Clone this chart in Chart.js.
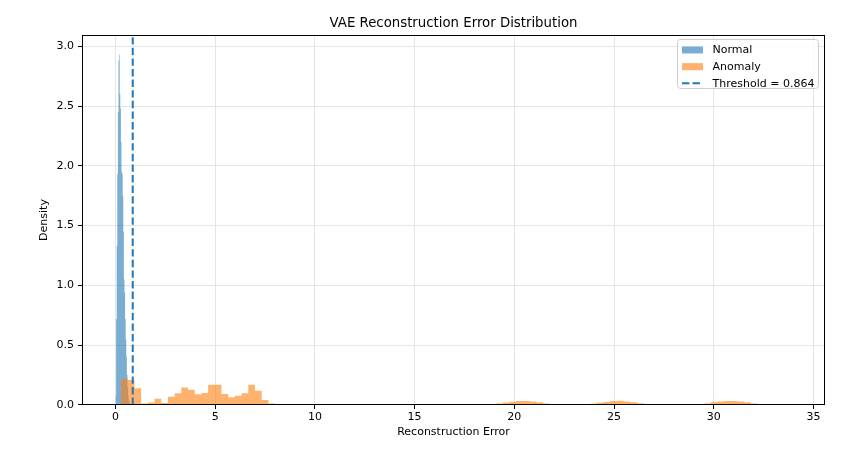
<!DOCTYPE html>
<html>
<head>
<meta charset="utf-8">
<script src="https://cdn.jsdelivr.net/npm/chart.js@4.4.1/dist/chart.umd.min.js"></script>
<style>
  html, body { margin: 0; padding: 0; background: #fff; }
  #wrap { width: 854px; height: 449px; position: relative; }
</style>
</head>
<body>
<div id="wrap"><canvas id="errChart"></canvas></div>
<script>
// histogram bins (density per bin)
const normalBinStart = 0.0;
const normalBinWidth = 0.03;
const normalDensity = [
  0.08, 0.72, 1.33, 1.93, 2.45, 2.88, 2.93, 2.60, 2.48, 2.20, 1.95, 1.93,
  1.75, 1.45, 1.05, 0.94, 0.72, 0.55, 0.40, 0.25, 0.15, 0.08, 0.04, 0.02
];

const anomalyBinStart = 0.276;
const anomalyBinWidth = 0.336;
const anomalyDensity = [
  0.22, 0.21, 0.14, 0.013, 0.02, 0.053, 0.017, 0.07, 0.098, 0.147,
  0.128, 0.09, 0.10, 0.17, 0.17, 0.092, 0.065, 0.078, 0.098, 0.17,
  0.12, 0.042, 0.012, 0.005, 0.004, 0.004, 0.003, 0, 0, 0,
  0, 0, 0, 0, 0, 0, 0, 0, 0, 0,
  0, 0, 0, 0.003, 0.004, 0.003, 0, 0, 0, 0,
  0, 0, 0.002, 0.004, 0.005, 0.007, 0.012, 0.02, 0.028, 0.033,
  0.033, 0.03, 0.022, 0.012, 0.004, 0, 0, 0, 0.003, 0.006,
  0.01, 0.018, 0.026, 0.033, 0.035, 0.03, 0.024, 0.015, 0.008, 0.003,
  0, 0, 0, 0, 0, 0.003, 0.007, 0.013, 0.022, 0.03,
  0.033, 0.033, 0.03, 0.022, 0.013, 0.006, 0.002, 0, 0, 0
];

const threshold = 0.864;
const xTicks = [0, 5, 10, 15, 20, 25, 30, 35];
const yTicks = [0, 0.5, 1.0, 1.5, 2.0, 2.5, 3.0];
const xRange = [-1.68, 35.58];
const yRange = [0, 3.094];

const FONT = "'DejaVu Sans', sans-serif";
const normalColor = "rgba(31,119,180,0.6)";
const anomalyColor = "rgba(255,127,14,0.6)";
const lineColor = "#1f77b4";

// stepped outline of a histogram: each bin holds its value until the next edge
function histPoints(start, width, dens) {
  const pts = dens.map((d, i) => ({ x: start + i * width, y: d }));
  pts.push({ x: start + dens.length * width, y: 0 });
  return pts;
}

const frame = {
  id: "frame",
  afterDatasetsDraw(chart) {
    const { ctx, chartArea: a } = chart;
    ctx.save();
    ctx.strokeStyle = "#000";
    ctx.lineWidth = 1;
    ctx.strokeRect(Math.round(a.left) + 0.5, Math.round(a.top) + 0.5,
      Math.round(a.right - a.left) - 1, Math.round(a.bottom - a.top) - 1);
    ctx.restore();
  },
  afterDraw(chart) {
    // matplotlib-style legend box in the upper right corner
    const { ctx, chartArea: a } = chart;
    const bx = a.right - 148, by = a.top + 4, bw = 141, bh = 49;
    ctx.save();
    ctx.fillStyle = "rgba(255,255,255,0.8)";
    ctx.strokeStyle = "#cccccc";
    ctx.lineWidth = 1;
    ctx.beginPath();
    ctx.roundRect(bx + 0.5, by + 0.5, bw, bh, 3);
    ctx.fill();
    ctx.stroke();

    const items = [
      { label: "Normal", kind: "patch", color: normalColor },
      { label: "Anomaly", kind: "patch", color: anomalyColor },
      { label: `Threshold = ${threshold}`, kind: "dash", color: lineColor },
    ];
    ctx.font = `11px ${FONT}`;
    ctx.textBaseline = "middle";
    items.forEach((it, i) => {
      const cy = by + 11 + i * 16.7;
      if (it.kind === "patch") {
        ctx.fillStyle = it.color;
        ctx.fillRect(bx + 5, cy - 3.5, 21, 7);
      } else {
        ctx.strokeStyle = it.color;
        ctx.lineWidth = 2;
        ctx.setLineDash([7.4, 3.2]);
        ctx.beginPath();
        ctx.moveTo(bx + 5, cy);
        ctx.lineTo(bx + 26, cy);
        ctx.stroke();
        ctx.setLineDash([]);
      }
      ctx.fillStyle = "#000";
      ctx.fillText(it.label, bx + 35.5, cy + 0.5);
    });
    ctx.restore();
  }
};

new Chart(document.getElementById("errChart"), {
  type: "line",
  data: {
    datasets: [
      {
        label: `Threshold = ${threshold}`,
        data: [{ x: threshold, y: yRange[0] }, { x: threshold, y: yRange[1] }],
        borderColor: lineColor, borderWidth: 2, borderDash: [7.4, 3.2],
        pointRadius: 0, fill: false, order: 0,
      },
      {
        label: "Anomaly",
        data: histPoints(anomalyBinStart, anomalyBinWidth, anomalyDensity),
        stepped: true, fill: "origin", backgroundColor: anomalyColor,
        borderColor: "transparent", borderWidth: 0, pointRadius: 0, order: 1,
      },
      {
        label: "Normal",
        data: histPoints(normalBinStart, normalBinWidth, normalDensity),
        stepped: true, fill: "origin", backgroundColor: normalColor,
        borderColor: "transparent", borderWidth: 0, pointRadius: 0, order: 2,
      },
    ],
  },
  options: {
    responsive: true,
    maintainAspectRatio: false,
    animation: false,
    events: [],
    layout: { padding: { left: 0, right: 29, top: 0, bottom: 0 } },
    scales: {
      x: {
        type: "linear", min: xRange[0], max: xRange[1],
        afterFit: (s) => { s.height = 44; },
        afterBuildTicks: (s) => { s.ticks = xTicks.map((v) => ({ value: v })); },
        ticks: { color: "#000", font: { family: FONT, size: 11 }, padding: 2, maxRotation: 0 },
        grid: { color: "#e5e5e5", tickColor: "#000", tickLength: 4 },
        border: { display: false },
        title: { display: true, text: "Reconstruction Error", color: "#000",
                 font: { family: FONT, size: 11 }, padding: { top: 0, bottom: 10 } },
      },
      y: {
        type: "linear", min: yRange[0], max: yRange[1],
        afterFit: (s) => { s.width = 82; },
        afterBuildTicks: (s) => { s.ticks = yTicks.map((v) => ({ value: v })); },
        ticks: { color: "#000", font: { family: FONT, size: 11 }, padding: 4,
                 callback: (v) => Number(v).toFixed(1) },
        grid: { color: "#e5e5e5", tickColor: "#000", tickLength: 4 },
        border: { display: false },
        title: { display: true, text: "Density", color: "#000",
                 font: { family: FONT, size: 11 }, padding: { top: 38, bottom: 0 } },
      },
    },
    plugins: {
      legend: { display: false },
      tooltip: { enabled: false },
      title: {
        display: true, fullSize: false, text: "VAE Reconstruction Error Distribution",
        color: "#000", font: { family: FONT, size: 13.3, weight: "normal" },
        padding: { top: 16, bottom: 3 },
      },
    },
  },
  plugins: [frame],
});
</script>
</body>
</html>
